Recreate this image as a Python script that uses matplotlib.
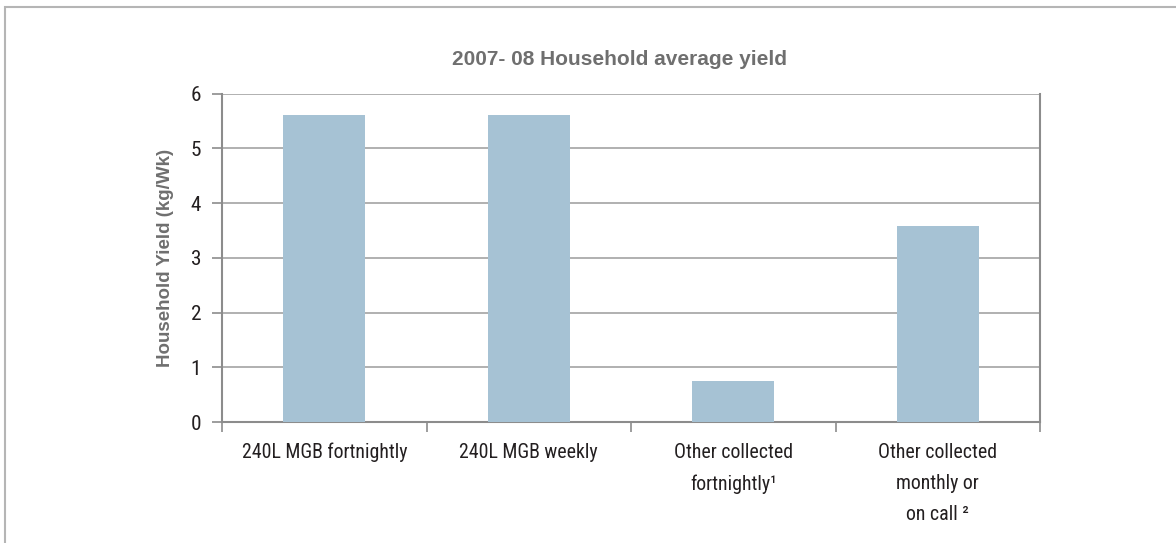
import matplotlib
matplotlib.use("Agg")
import matplotlib.pyplot as plt
from matplotlib import font_manager
from matplotlib.patches import Rectangle

# chart data
categories = [
    "240L MGB fortnightly",
    "240L MGB weekly",
    "Other collected\nfortnightly\u00b9",
    "Other collected\nmonthly or\non call \u00b2",
]
yield_kg_wk = [5.61, 5.61, 0.74, 3.58]
y_ticks = [0, 1, 2, 3, 4, 5, 6]

BAR_COLOR = "#a6c2d4"
GRID_COLOR = "#a3a3a3"
SPINE_COLOR = "#8c8c8c"
TEXT_DARK = "#231f20"
TEXT_GRAY = "#6f6f6f"

# the source uses a condensed face; take the first narrow one that is installed
installed = {f.name for f in font_manager.fontManager.ttflist}
narrow_choices = ["Liberation Sans Narrow", "DejaVu Sans Condensed", "Roboto Condensed",
                  "Open Sans Condensed", "Noto Sans Condensed"]
narrow_found = [n for n in narrow_choices if n in installed]
if narrow_found:
    NARROW = [narrow_found[0], "DejaVu Sans"]
    tick_size = 14.3
else:
    NARROW = ["Liberation Sans", "DejaVu Sans"]
    tick_size = 12.5
WIDE = ["Liberation Sans", "DejaVu Sans"]

fig = plt.figure(figsize=(11.76, 5.43), dpi=100)
ax = fig.add_axes([222 / 1176, 1 - 422 / 543, (1040 - 222) / 1176, (422 - 93.5) / 543])

# outer frame (runs off the right and bottom edge)
fig.patches.append(Rectangle((5 / 1176, -0.1), 1.2, 1 - 7 / 543 + 0.1,
                             transform=fig.transFigure, fill=False,
                             edgecolor="#b5b5b5", linewidth=1.5))

x = list(range(len(categories)))
ax.bar(x, yield_kg_wk, width=0.40, color=BAR_COLOR, zorder=3)

ax.set_xlim(-0.5, len(categories) - 0.5)
ax.set_ylim(0, 6)
ax.set_yticks(y_ticks)
ax.set_yticklabels([str(t) for t in y_ticks], family=NARROW, fontsize=tick_size + 1, color=TEXT_DARK)
ax.yaxis.grid(True, color=GRID_COLOR, linewidth=1.2, zorder=0)

# x ticks sit on category boundaries, labels at the centres
ax.set_xticks([i - 0.5 for i in range(len(categories) + 1)])
ax.set_xticklabels([])
ax.set_xticks(x, minor=True)
ax.set_xticklabels(categories, minor=True, family=NARROW, fontsize=tick_size,
                   color=TEXT_DARK, linespacing=1.8, va="top")
ax.tick_params(axis="x", which="minor", length=0, pad=15)
ax.tick_params(axis="x", which="major", length=7, width=1.2, color=SPINE_COLOR, direction="out")
ax.tick_params(axis="y", length=7, width=1.2, color=SPINE_COLOR, pad=8)

for side in ["top", "right", "left", "bottom"]:
    ax.spines[side].set_color(SPINE_COLOR)
    ax.spines[side].set_linewidth(1.5)
ax.spines["top"].set_visible(False)

ax.set_ylabel("Household Yield (kg/Wk)", family=WIDE, fontsize=13.5,
              fontweight="bold", color=TEXT_GRAY, labelpad=12)
fig.text(620 / 1176, 1 - 60 / 543, "2007- 08 Household average yield", family=WIDE,
         fontsize=15, fontweight="bold", color=TEXT_GRAY, ha="center", va="center")

fig.savefig("out.png", dpi=100, facecolor="white")
